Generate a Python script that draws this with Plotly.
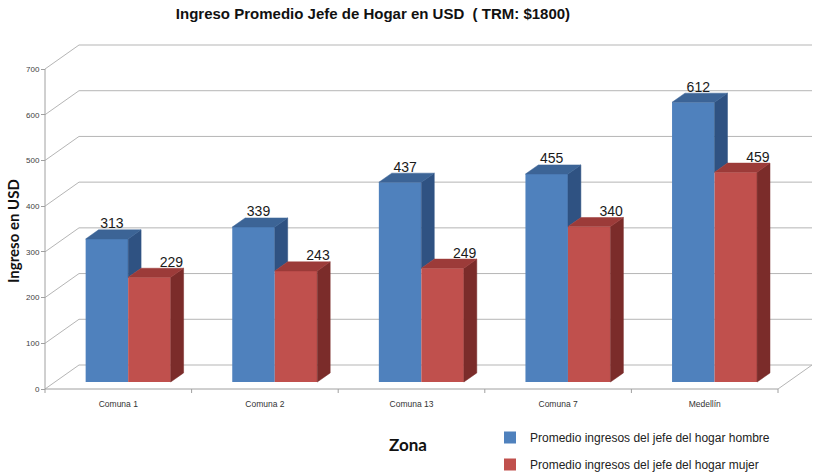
import plotly.graph_objects as go

# ---------------- data ----------------
categories = ["Comuna 1", "Comuna 2", "Comuna 13", "Comuna 7", "Medellín"]
hombre = [313, 339, 437, 455, 612]
mujer = [229, 243, 249, 340, 459]
y_ticks = [0, 100, 200, 300, 400, 500, 600, 700]
series_names = ["Promedio ingresos del jefe del hogar hombre",
                "Promedio ingresos del jefe del hogar mujer"]

# ---------------- geometry (pixel based 3-D projection) ----------------
W, H = 815, 472
L, R, T, B = 40, 0, 30, 78
PW, PH = W - L - R, H - T - B
CPX = 146.6            # px per category
PXU = 320 / 700        # px per value unit
X0PX, Y0PX = 5, 5      # front axis offset inside plot area
xr = [-X0PX / CPX, (PW - X0PX) / CPX]
yr = [-Y0PX / PXU, (PH - Y0PX) / PXU]
DX, DY = 34 / CPX, 24 / PXU      # depth of the walls
F1, F2 = 0.29, 0.67              # front / back of bars in depth fraction
BW = 0.29                        # bar width (category units)
SDX, SDY = (F2 - F1) * DX, (F2 - F1) * DY
BASE = F1 * DY

colors = {
    "blue": ("#4F81BD", "#3C6496", "#2F5282"),
    "red": ("#C0504D", "#9C3B39", "#7B2C2A"),
}
GRID = "#b5b5b5"
AXIS = "#a0a0a0"
n = len(categories)

fig = go.Figure()

# front faces as bars
blue_x = [i + 0.5 - BW / 2 + F1 * DX for i in range(n)]
red_x = [i + 0.5 + BW / 2 + F1 * DX for i in range(n)]
fig.add_trace(go.Bar(x=blue_x, y=hombre, base=[BASE] * n, width=BW,
                     marker=dict(color=colors["blue"][0], line=dict(width=0)),
                     name=series_names[0], legendgroup="h", hoverinfo="skip"))
fig.add_trace(go.Bar(x=red_x, y=mujer, base=[BASE] * n, width=BW,
                     marker=dict(color=colors["red"][0], line=dict(width=0)),
                     name=series_names[1], legendgroup="m", hoverinfo="skip"))


def faces(xc, vals, lows):
    tx, ty, sx, sy = [], [], [], []
    for c, v, lo in zip(xc, vals, lows):
        xl, xrr = c - BW / 2, c + BW / 2
        top = BASE + v
        tx += [xl, xrr, xrr + SDX, xl + SDX, xl, None]
        ty += [top, top, top + SDY, top + SDY, top, None]
        lo_y = BASE + min(lo, v)
        sx += [xrr, xrr, xrr + SDX, xrr + SDX, xrr, None]
        sy += [lo_y, top, top + SDY, lo_y + SDY, lo_y, None]
    return tx, ty, sx, sy


for key, xc, vals, lows in [("blue", blue_x, hombre, mujer),
                            ("red", red_x, mujer, [0] * n)]:
    tx, ty, sx, sy = faces(xc, vals, lows)
    fig.add_trace(go.Scatter(x=sx, y=sy, mode="lines", fill="toself",
                             fillcolor=colors[key][2],
                             line=dict(color=colors[key][2], width=0.5),
                             showlegend=False, hoverinfo="skip"))
    fig.add_trace(go.Scatter(x=tx, y=ty, mode="lines", fill="toself",
                             fillcolor=colors[key][1],
                             line=dict(color=colors[key][1], width=0.5),
                             showlegend=False, hoverinfo="skip"))

# value labels
for xc, vals, off in [(blue_x, hombre, 5), (red_x, mujer, 22)]:
    fig.add_trace(go.Scatter(
        x=[c + off / CPX for c in xc],
        y=[F2 * DY + v + 5 / PXU for v in vals],
        mode="text", text=[str(v) for v in vals], textposition="middle center",
        textfont=dict(size=14, family="Liberation Sans", color="#1a1a1a"),
        showlegend=False, hoverinfo="skip", cliponaxis=False))

# walls, grid, floor
shapes = []
for v in y_ticks:
    shapes.append(dict(type="line", x0=0, y0=v, x1=DX, y1=v + DY,
                       line=dict(color=GRID, width=1), layer="below"))
    shapes.append(dict(type="line", x0=DX, y0=v + DY, x1=n + DX, y1=v + DY,
                       line=dict(color=GRID, width=1), layer="below"))
shapes.append(dict(type="line", x0=0, y0=0, x1=n, y1=0,
                   line=dict(color=AXIS, width=1), layer="below"))
shapes.append(dict(type="line", x0=n, y0=0, x1=n + DX, y1=DY,
                   line=dict(color=GRID, width=1), layer="below"))
shapes.append(dict(type="line", x0=0, y0=0, x1=0, y1=y_ticks[-1],
                   line=dict(color=AXIS, width=1), layer="below"))
for i in range(n + 1):
    shapes.append(dict(type="line", x0=i, y0=0, x1=i, y1=-4 / PXU,
                       line=dict(color=AXIS, width=1), layer="below"))

fig.update_layout(
    width=W, height=H,
    margin=dict(l=L, r=R, t=T, b=B, autoexpand=False),
    paper_bgcolor="white", plot_bgcolor="white",
    barmode="overlay", showlegend=True, shapes=shapes,
    title=dict(text="<b>Ingreso Promedio Jefe de Hogar en USD  ( TRM: $1800)</b>",
               x=373 / W, xanchor="center", xref="container",
               y=1 - 14 / H, yanchor="middle", yref="container",
               font=dict(size=15, family="Liberation Sans", color="#111")),
    xaxis=dict(range=xr, tickvals=[i + 0.5 for i in range(n)], ticktext=categories,
               showgrid=False, zeroline=False, showline=False, automargin=False,
               ticks="outside", ticklen=2, tickcolor="rgba(0,0,0,0)",
               tickfont=dict(size=8.5, family="Liberation Sans", color="#333")),
    yaxis=dict(range=yr, tickvals=y_ticks, showgrid=False, zeroline=False,
               showline=False, ticks="outside", ticklen=4, tickcolor=AXIS,
               anchor="free", position=X0PX / PW, automargin=False,
               tickfont=dict(size=8, family="Liberation Sans", color="#404040")),
    legend=dict(x=(490 - L) / PW, y=(H - B - 423) / PH, xanchor="left", yanchor="top",
                font=dict(size=12, family="Liberation Sans", color="#222"),
                tracegroupgap=8, traceorder="grouped", bgcolor="rgba(0,0,0,0)",
                itemwidth=30),
    annotations=[
        dict(text="<b>Zona</b>", x=(408 - L) / PW, y=(H - B - 444) / PH,
             xref="paper", yref="paper", showarrow=False,
             xanchor="center", yanchor="middle",
             font=dict(size=17, family="Lato", color="#111")),
        dict(text="<b>Ingreso en USD</b>", x=(13 - L) / PW, y=(H - B - 231) / PH,
             xref="paper", yref="paper", showarrow=False, textangle=-90,
             xanchor="center", yanchor="middle",
             font=dict(size=15, family="Lato", color="#111")),
    ],
)

fig.write_html("out.html", config={"displayModeBar": False},
               post_script="document.body.style.margin='0';document.body.style.padding='0';")
